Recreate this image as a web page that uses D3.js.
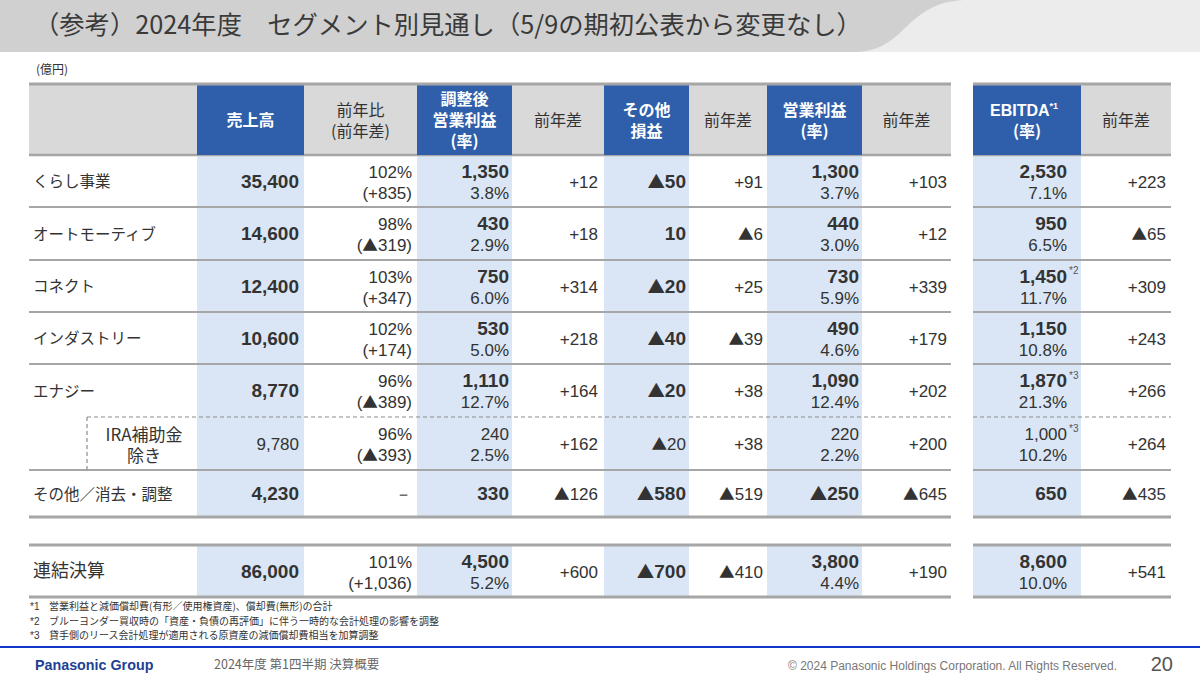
<!DOCTYPE html>
<html><head><meta charset="utf-8">
<script src="https://cdn.jsdelivr.net/npm/d3@7"></script>
<style>
html,body{margin:0;padding:0;background:#fff;}
svg{display:block;}
</style></head>
<body>
<svg id="c" width="1200" height="675"></svg>
<script>
// ---------------- DATA ----------------
const title = "（参考）2024年度　セグメント別見通し（5/9の期初公表から変更なし）";
const unitLabel = "(億円)";
const segments = ["くらし事業","オートモーティブ","コネクト","インダストリー","エナジー","IRA補助金|除き","その他／消去・調整","連結決算"];
const sales      = [35400,14600,12400,10600,8770,9780,4230,86000];
const salesYoY   = [102,98,103,102,96,96,null,101];
const salesDiff  = [835,-319,347,174,-389,-393,null,1036];
const adjOp      = [1350,430,750,530,1110,240,330,4500];
const adjOpRate  = [3.8,2.9,6.0,5.0,12.7,2.5,null,5.2];
const adjOpDiff  = [12,18,314,218,164,162,-126,600];
const otherPL    = [-50,10,-20,-40,-20,-20,-580,-700];
const otherDiff  = [91,-6,25,-39,38,38,-519,-410];
const opProfit   = [1300,440,730,490,1090,220,-250,3800];
const opRate     = [3.7,3.0,5.9,4.6,12.4,2.2,null,4.4];
const opDiff     = [103,12,339,179,202,200,-645,190];
const ebitda     = [2530,950,1450,1150,1870,1000,650,8600];
const ebitdaRate = [7.1,6.5,11.7,10.8,21.3,10.2,null,10.0];
const ebitdaNote = [null,null,"*2",null,"*3","*3",null,null];
const ebitdaDiff = [223,-65,309,243,266,264,-435,541];
const headers = [[""],["売上高"],["前年比","(前年差)"],["調整後","営業利益","(率)"],["前年差"],["その他","損益"],["前年差"],["営業利益","(率)"],["前年差"],["EBITDA","(率)"],["前年差"]];
const footnotes = [
  ["*1","営業利益と減価償却費(有形／使用権資産)、償却費(無形)の合計"],
  ["*2","ブルーヨンダー買収時の「資産・負債の再評価」に伴う一時的な会計処理の影響を調整"],
  ["*3","貸手側のリース会計処理が適用される原資産の減価償却費相当を加算調整"]
];
const footerLeft = "Panasonic Group";
const footerMid = "2024年度 第1四半期  決算概要";
const footerRight = "© 2024 Panasonic Holdings Corporation. All Rights Reserved.";
const pageNo = "20";

// ---------------- LAYOUT ----------------
const JP = "'Noto Sans CJK JP','Noto Sans',sans-serif";
const NUM = "'Liberation Sans',Arial,'DejaVu Sans',sans-serif";
const DARK = "#333333";
const BLUE = "#2F5FAA", LBLUE = "#DAE6F5", HGRAY = "#D9D9D9", LINE = "#A6A6A6";

const colKeys = ["label","sales","salesYoY","adjOp","adjOpDiff","other","otherDiff","op","opDiff","ebitda","ebitdaDiff"];
const colLeft  = d3.scaleOrdinal().domain(colKeys).range([29,197,304,417,512,604,689,767,862,973,1081]);
const colRight = d3.scaleOrdinal().domain(colKeys).range([197,304,417,512,604,689,767,862,951,1081,1171]);
const colPad   = d3.scaleOrdinal().domain(colKeys).range([0,5,5,3,6,3,4,3,4,14,5]);
const blueCols = new Set(["sales","adjOp","other","op","ebitda"]);
const rowIdx = d3.range(segments.length);
const rowTop = d3.scaleOrdinal().domain(rowIdx).range([155,207,260,312,364,417,470,545]);
const rowBot = d3.scaleOrdinal().domain(rowIdx).range([207,260,312,364,417,470,517,597]);
const headTop = 84, headBot = 155;
const groups = [[29,951],[973,1171]];

const fmt = d3.format(",");
const num = v => v == null ? "－" : (v < 0 ? "▲" + fmt(-v) : fmt(v));
const diff = v => v == null ? "" : (v < 0 ? "▲" + fmt(-v) : "+" + fmt(v));
const pct = v => v == null ? null : d3.format(".1f")(v) + "%";

const svg = d3.select("#c");

// write a string into a text element, drawing ▲ with the CJK font
function fill(sel, str){
  str.split(/(▲)/).filter(s=>s.length).forEach(p=>{
    const ts = sel.append("tspan").text(p);
    if (p==="▲") ts.attr("font-family",JP).attr("font-weight","normal").attr("font-size","0.92em");
  });
}

// ---- title banner ----
svg.append("rect").attr("x",0).attr("y",0).attr("width",1200).attr("height",52).attr("fill","#ECECEC");
svg.append("path").attr("fill","#D0D0D0")
  .attr("d","M0,0 L965,0 C935,1 920,14 905,28 C888,45 875,52 852,52 L0,52 Z");
svg.append("text").attr("x",34).attr("y",34).attr("font-family",JP).attr("font-size",25.3)
  .attr("fill","#3a3a3a").text(title);
svg.append("text").attr("x",36).attr("y",74).attr("font-family",JP).attr("font-size",12)
  .attr("fill",DARK).text(unitLabel);

// ---- column backgrounds ----
const bodyBands = [[headBot,rowBot(6)],[rowTop(7),rowBot(7)]];
colKeys.forEach(k=>{
  const x0 = colLeft(k), w = colRight(k)-colLeft(k);
  svg.append("rect").attr("x",x0).attr("y",headTop).attr("width",w).attr("height",headBot-headTop)
    .attr("fill", blueCols.has(k) ? BLUE : HGRAY);
  if (blueCols.has(k)) bodyBands.forEach(b=>{
    svg.append("rect").attr("x",x0).attr("y",b[0]).attr("width",w).attr("height",b[1]-b[0]).attr("fill",LBLUE);
  });
});

// ---- header text ----
colKeys.forEach((k,i)=>{
  const lines = headers[i];
  const cx = (colLeft(k)+colRight(k))/2;
  const mid = (headTop+headBot)/2 + 1;
  const step = 21;
  lines.forEach((t,j)=>{
    if (!t) return;
    const cy = mid + (j-(lines.length-1)/2)*step;
    const isBlue = blueCols.has(k);
    const tx = svg.append("text").attr("x",cx).attr("y",cy+5.5).attr("text-anchor","middle")
      .attr("font-family", t==="EBITDA" ? NUM : JP).attr("font-size",16)
      .attr("font-weight", isBlue ? "bold" : "normal")
      .attr("fill", isBlue ? "#fff" : DARK);
    if (t==="EBITDA") {
      tx.attr("x",cx-3).text(t);
      tx.append("tspan").attr("font-size",9).attr("dy",-7).text("*1");
    } else tx.text(t);
  });
});

// ---- lines ----
function hline(y,x0,x1,w,dash){
  const l = svg.append("line").attr("x1",x0).attr("x2",x1).attr("y1",y).attr("y2",y)
    .attr("stroke",LINE).attr("stroke-width",w);
  if (dash) l.attr("stroke-dasharray",dash).attr("stroke","#8c8c8c");
}
groups.forEach(g=>{
  hline(headTop,g[0],g[1],3);
  hline(headBot,g[0],g[1],2.5);
  [0,1,2,3].forEach(r=>hline(rowBot(r),g[0],g[1],2));
  hline(rowBot(4), g[0]===29 ? 87 : g[0], g[1], 1.2, "4,3");
  hline(rowBot(5),g[0],g[1],2);
  hline(rowBot(6),g[0],g[1],3);
  hline(rowTop(7),g[0],g[1],3);
  hline(rowBot(7),g[0],g[1],3);
});
colKeys.filter(k=>blueCols.has(k)).forEach(k=>{
  svg.append("rect").attr("x",colLeft(k)).attr("y",headBot-2).attr("width",colRight(k)-colLeft(k)).attr("height",2).attr("fill",BLUE);
});
svg.append("line").attr("x1",87).attr("x2",87).attr("y1",rowTop(5)).attr("y2",rowBot(5))
  .attr("stroke","#8c8c8c").attr("stroke-width",1.2).attr("stroke-dasharray","4,3");

// ---- body cells ----
function cellText(k, r, lines){
  const xr = colRight(k) - colPad(k);
  const c = (rowTop(r)+rowBot(r))/2;
  const offs = lines.length===2 ? [-10,11] : [0];
  lines.forEach((ln,j)=>{
    if (!ln || ln.t==null) return;
    const t = svg.append("text").attr("x",xr).attr("y",c+offs[j]+6.5).attr("text-anchor","end")
      .attr("font-family",NUM).attr("font-size", ln.b ? 19 : 17)
      .attr("font-weight", ln.b ? "bold" : "normal").attr("fill",DARK);
    fill(t, ln.t);
    if (ln.note) {
      svg.append("text").attr("x",xr+2).attr("y",c+offs[j]-2).attr("font-family",NUM)
        .attr("font-size",10).attr("fill","#555").text(ln.note);
    }
  });
}

rowIdx.forEach(r=>{
  const sub = r===5;
  const B = !sub;
  const c = (rowTop(r)+rowBot(r))/2;
  const lab = segments[r].split("|");
  if (lab.length===2){
    lab.forEach((t,j)=>svg.append("text").attr("x",144).attr("y",c+(j===0?-9:12)+6)
      .attr("text-anchor","middle").attr("font-family",JP).attr("font-size",17).attr("fill",DARK).text(t));
  } else {
    svg.append("text").attr("x",33).attr("y",c+6).attr("font-family",JP)
      .attr("font-size", r===7 ? 18 : 15.5).attr("fill",DARK).text(lab[0]);
  }
  cellText("sales", r, [{t:num(sales[r]), b:B}]);
  if (salesYoY[r]==null) cellText("salesYoY", r, [{t:"－"}]);
  else cellText("salesYoY", r, [{t:salesYoY[r]+"%"},{t:"("+diff(salesDiff[r])+")"}]);
  cellText("adjOp", r, adjOpRate[r]==null ? [{t:num(adjOp[r]),b:B}] : [{t:num(adjOp[r]),b:B},{t:pct(adjOpRate[r])}]);
  cellText("adjOpDiff", r, [{t:diff(adjOpDiff[r])}]);
  cellText("other", r, [{t:num(otherPL[r]), b:B}]);
  cellText("otherDiff", r, [{t:diff(otherDiff[r])}]);
  cellText("op", r, opRate[r]==null ? [{t:num(opProfit[r]),b:B}] : [{t:num(opProfit[r]),b:B},{t:pct(opRate[r])}]);
  cellText("opDiff", r, [{t:diff(opDiff[r])}]);
  cellText("ebitda", r, ebitdaRate[r]==null ? [{t:num(ebitda[r]),b:B,note:ebitdaNote[r]}] : [{t:num(ebitda[r]),b:B,note:ebitdaNote[r]},{t:pct(ebitdaRate[r])}]);
  cellText("ebitdaDiff", r, [{t:diff(ebitdaDiff[r])}]);
});

// ---- footnotes ----
footnotes.forEach((f,i)=>{
  const y = 610 + i*14.5;
  svg.append("text").attr("x",30).attr("y",y).attr("font-family",NUM).attr("font-size",10).attr("fill",DARK).text(f[0]);
  svg.append("text").attr("x",49).attr("y",y).attr("font-family",JP).attr("font-size",10).attr("fill",DARK).text(f[1]);
});

// ---- footer ----
svg.append("line").attr("x1",0).attr("x2",1200).attr("y1",647).attr("y2",647).attr("stroke","#1237C8").attr("stroke-width",2);
svg.append("text").attr("x",35).attr("y",670).attr("font-family",NUM).attr("font-weight","bold").attr("font-size",14.3)
  .attr("fill","#1D3F94").text(footerLeft);
svg.append("text").attr("x",214).attr("y",669).attr("font-family",JP).attr("font-size",12.5).attr("fill","#666").text(footerMid);
svg.append("text").attr("x",1117).attr("y",670).attr("text-anchor","end").attr("font-family",NUM).attr("font-size",12).attr("fill","#777").text(footerRight);
svg.append("text").attr("x",1173).attr("y",671).attr("text-anchor","end").attr("font-family",NUM).attr("font-size",20).attr("fill","#555").text(pageNo);
</script>
</body></html>
